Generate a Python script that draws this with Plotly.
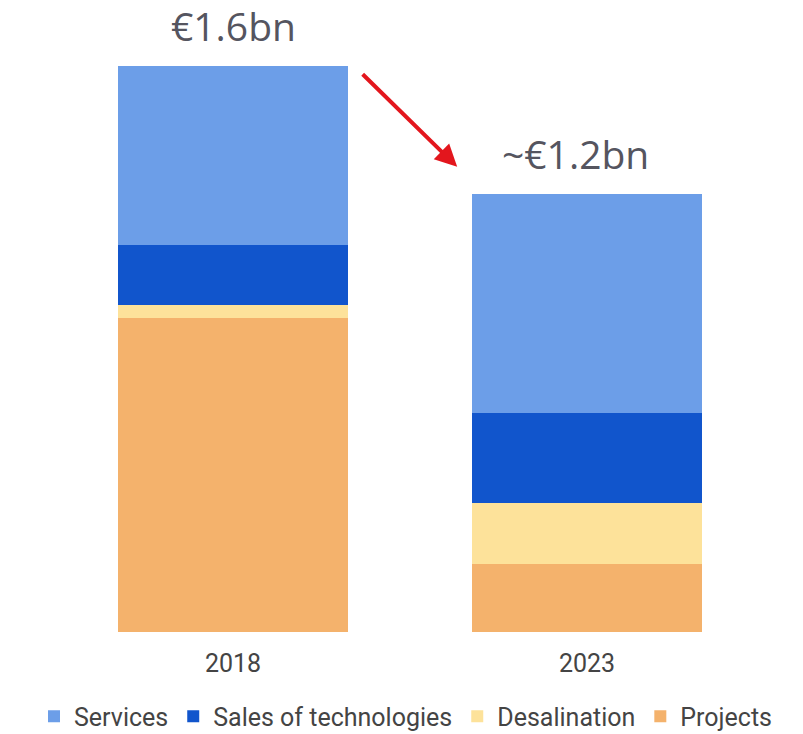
import plotly.graph_objects as go

years = ["2018", "2023"]
projects = [0.887, 0.192]
desalination = [0.037, 0.174]
sales_tech = [0.171, 0.254]
services = [0.505, 0.620]
total_labels = ["€1.6bn", "~€1.2bn"]
totals = [1.6, 1.24]

colors = {
    "Services": "#6C9EE8",
    "Sales of technologies": "#1155CC",
    "Desalination": "#FDE29A",
    "Projects": "#F4B26C",
}

xpos = list(range(len(years)))

fig = go.Figure()
for name, vals, rank in [("Projects", projects, 4), ("Desalination", desalination, 3),
                         ("Sales of technologies", sales_tech, 2), ("Services", services, 1)]:
    fig.add_trace(go.Bar(x=xpos, y=vals, name=name, marker_color=colors[name],
                         marker_line_width=0, legendrank=rank, width=0.65))

for xp, tot, lab in zip(xpos, totals, total_labels):
    fig.add_annotation(x=xp, y=tot, text=lab, showarrow=False, yanchor="bottom", yshift=20,
                       height=40, valign="middle", borderpad=0,
                       xshift=-12 if lab.startswith("~") else 0,
                       font=dict(family="Open Sans, sans-serif", size=39, color="#55555F"))

fig.add_annotation(x=0.565, y=0.774, xref="paper", yref="paper", ax=-96, ay=-94,
                   showarrow=True, arrowhead=2, arrowsize=1.1,
                   arrowwidth=4, arrowcolor="#E3161D", text="")

fig.update_layout(
    barmode="stack",
    width=795, height=726,
    margin=dict(l=0, r=0, t=23, b=102),
    plot_bgcolor="white", paper_bgcolor="white",
    showlegend=True,
    legend=dict(orientation="h", x=0.5, xanchor="center", y=0.024, yanchor="middle",
                yref="container",
                font=dict(family="Roboto", size=25, color="#444444"), traceorder="normal",
                itemwidth=30),
    xaxis=dict(domain=[48 / 795, 756 / 795], range=[-0.5, 1.5],
               tickvals=xpos, ticktext=years, showgrid=False, showline=False,
               zeroline=False, ticks="", ticklabelstandoff=14,
               tickfont=dict(family="Roboto", size=25, color="#444444")),
    yaxis=dict(visible=False, range=[0, 1.7]),
)

fig.write_html("out.html")
